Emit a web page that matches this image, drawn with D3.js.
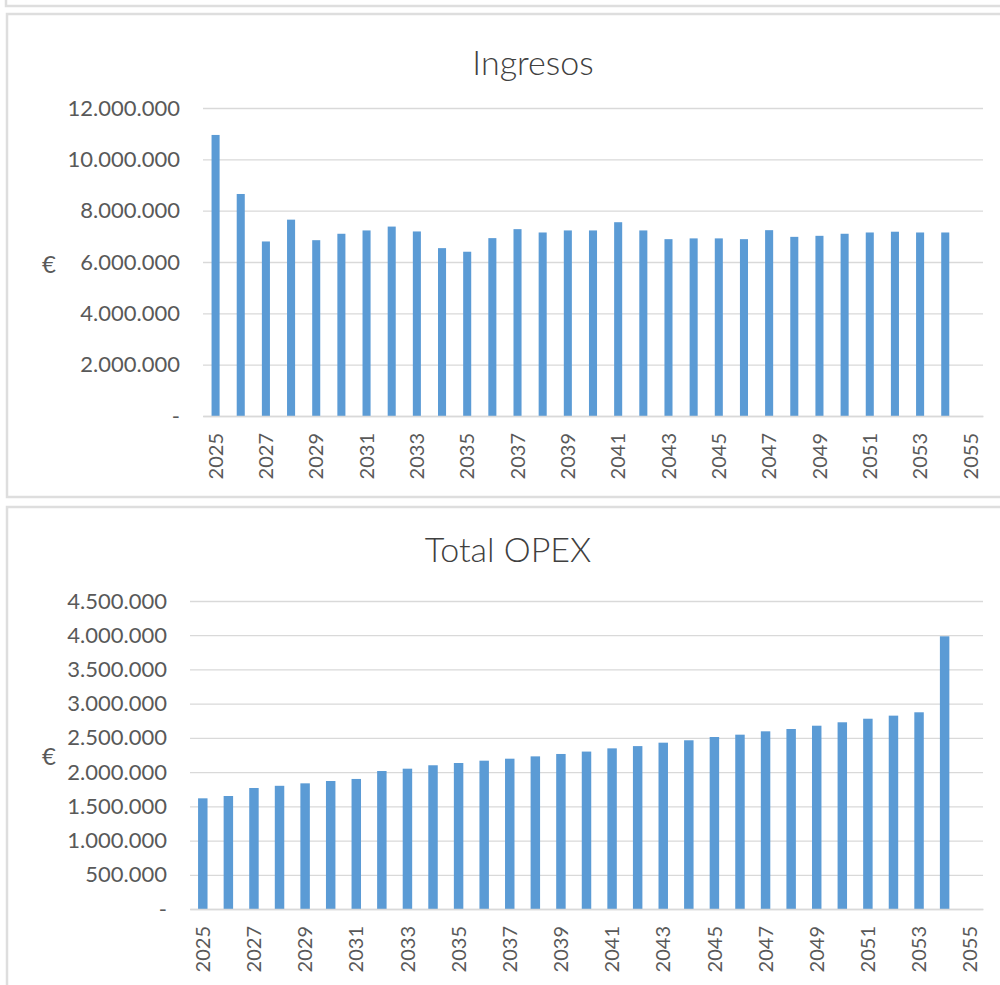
<!DOCTYPE html>
<html>
<head>
<meta charset="utf-8">
<script src="https://cdn.jsdelivr.net/npm/d3@7"></script>
<style>
  html, body { margin: 0; padding: 0; background: #fff; }
  svg { display: block; font-family: Lato, "Open Sans", sans-serif; }
</style>
</head>
<body>
<svg id="chart" width="1000" height="985"></svg>
<script>
// Years on the category axis (the last one has no value)
const years = [2025, 2026, 2027, 2028, 2029, 2030, 2031, 2032, 2033, 2034,
               2035, 2036, 2037, 2038, 2039, 2040, 2041, 2042, 2043, 2044,
               2045, 2046, 2047, 2048, 2049, 2050, 2051, 2052, 2053, 2054, 2055];

// Every second year gets a label
const yearLabels = [2025, 2027, 2029, 2031, 2033, 2035, 2037, 2039,
                    2041, 2043, 2045, 2047, 2049, 2051, 2053, 2055];

// Revenue per year, €
const ingresos = [10950000, 8650000, 6800000, 7650000, 6850000, 7100000, 7230000, 7380000,
                  7190000, 6540000, 6400000, 6930000, 7280000, 7150000, 7230000, 7230000,
                  7550000, 7230000, 6890000, 6920000, 6920000, 6890000, 7240000, 6980000,
                  7020000, 7100000, 7150000, 7180000, 7150000, 7150000];

// Total operating expenses per year, €
const opex = [1617000, 1651000, 1768000, 1800000, 1836000, 1870000, 1900000, 2016000,
              2050000, 2100000, 2133000, 2167000, 2196000, 2230000, 2265000, 2300000,
              2347000, 2380000, 2430000, 2465000, 2513000, 2547000, 2596000, 2630000,
              2678000, 2728000, 2780000, 2825000, 2874000, 3984000];

// Value-axis ticks
const ingresosTicks = [0, 2000000, 4000000, 6000000, 8000000, 10000000, 12000000];
const opexTicks = [0, 500000, 1000000, 1500000, 2000000, 2500000, 3000000, 3500000, 4000000, 4500000];

const barColor = "#5B9BD5";
const gridColor = "#D9D9D9";
const textColor = "#595959";
const frameColor = "#DEDEDE";

const locale = d3.formatLocale({ decimal: ",", thousands: ".", grouping: [3], currency: ["", " €"] });
const fmt = locale.format(",");
const tickFmt = d => d === 0 ? "-" : fmt(d);

const svg = d3.select("#chart");

// Chart frames (a neighbouring one above, then the two charts)
svg.append("rect").attr("x", 6).attr("y", -500).attr("width", 1100).attr("height", 506)
  .attr("fill", "none").attr("stroke", frameColor).attr("stroke-width", 2.5);
svg.append("rect").attr("x", 7).attr("y", 14).attr("width", 1100).attr("height", 483)
  .attr("fill", "#fff").attr("stroke", frameColor).attr("stroke-width", 2.5);
svg.append("rect").attr("x", 7).attr("y", 507).attr("width", 1100).attr("height", 600)
  .attr("fill", "#fff").attr("stroke", frameColor).attr("stroke-width", 2.5);

function drawChart(cfg) {
  const x = d3.scaleBand()
    .domain(years)
    .range([cfg.left, cfg.right])
    .paddingInner(cfg.pad)
    .paddingOuter(cfg.pad / 2);

  const y = d3.scaleLinear()
    .domain([0, d3.max(cfg.ticks)])
    .range([cfg.bottom, cfg.top]);

  const g = svg.append("g");

  // Title
  g.append("text")
    .attr("x", cfg.titleX).attr("y", cfg.titleY)
    .attr("text-anchor", "middle")
    .attr("font-size", 34).attr("font-weight", 300)
    .attr("fill", "#404040")
    .text(cfg.title);

  // Value axis with gridlines
  const yAxis = g.append("g")
    .attr("transform", `translate(${cfg.left},0)`)
    .call(d3.axisLeft(y)
      .tickValues(cfg.ticks)
      .tickFormat(tickFmt)
      .tickSizeInner(-(cfg.right - cfg.left))
      .tickSizeOuter(0)
      .tickPadding(23));
  yAxis.select(".domain").remove();
  yAxis.selectAll(".tick line").attr("stroke", gridColor).attr("stroke-width", 1.3);
  yAxis.selectAll(".tick text")
    .attr("fill", textColor).attr("font-size", 22).attr("font-family", "Lato, sans-serif");

  // Unit label
  g.append("text")
    .attr("x", 49).attr("y", cfg.euroY)
    .attr("dy", "0.35em")
    .attr("text-anchor", "middle")
    .attr("font-size", 24)
    .attr("fill", textColor)
    .text("€");

  // Bars
  const data = cfg.values.map((v, i) => ({ year: years[i], value: v }));
  g.append("g").selectAll("rect")
    .data(data)
    .join("rect")
    .attr("x", d => x(d.year))
    .attr("width", x.bandwidth())
    .attr("y", d => y(d.value))
    .attr("height", d => y(0) - y(d.value))
    .attr("fill", barColor);

  // Category axis
  const xAxis = g.append("g")
    .attr("transform", `translate(0,${cfg.bottom})`)
    .call(d3.axisBottom(x).tickValues(yearLabels).tickSize(0));
  xAxis.select(".domain").attr("stroke", gridColor).attr("stroke-width", 1.5);
  xAxis.selectAll(".tick text")
    .attr("transform", "rotate(-90)")
    .attr("x", -17).attr("y", 0).attr("dy", "0.36em")
    .attr("text-anchor", "end")
    .attr("fill", textColor).attr("font-size", 20).attr("font-family", "Lato, sans-serif");
}

drawChart({
  title: "Ingresos", titleX: 533, titleY: 75,
  values: ingresos, ticks: ingresosTicks,
  left: 203, right: 983, top: 108, bottom: 416,
  pad: 0.68, euroY: 265
});

drawChart({
  title: "Total OPEX", titleX: 508, titleY: 562,
  values: opex, ticks: opexTicks,
  left: 190, right: 983, top: 601, bottom: 909,
  pad: 0.63, euroY: 757
});
</script>
</body>
</html>
